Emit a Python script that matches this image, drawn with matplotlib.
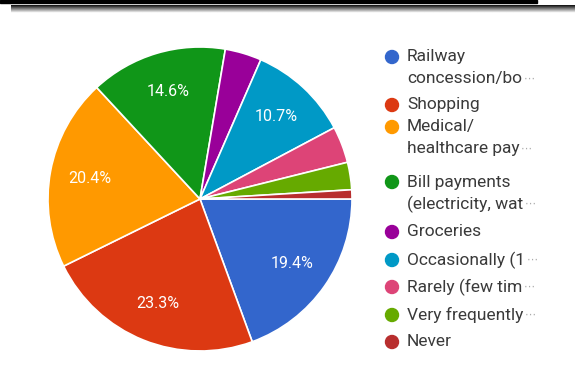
import matplotlib
matplotlib.use("Agg")
import matplotlib.pyplot as plt
from matplotlib.patches import Circle, Rectangle
import numpy as np

plt.rcParams['font.family'] = ['Roboto', 'DejaVu Sans']

# responses per option
labels = ["Railway\nconcession/bo", "Shopping", "Medical/\nhealthcare pay",
          "Bill payments\n(electricity, wat", "Groceries", "Occasionally (1",
          "Rarely (few tim", "Very frequently", "Never"]
truncated = [True, False, True, True, False, True, True, True, False]
counts = [20, 24, 21, 15, 4, 11, 4, 3, 1]
colors = ["#3366CC", "#DC3912", "#FF9900", "#109618", "#990099",
          "#0099C6", "#DD4477", "#66AA00", "#B82E2E"]

W, H = 575, 385
fig = plt.figure(figsize=(W / 100, H / 100), dpi=100)
fig.patch.set_facecolor("white")

# background layer in pixel units
bg = fig.add_axes([0, 0, 1, 1])
bg.axis('off')
bg.add_patch(Rectangle((0, 0), 537, 2.5, color="black"))
grad = np.linspace(0.1, 0.97, 8)[:, None] * np.ones((1, 10))
bg.imshow(grad, cmap="gray", vmin=0, vmax=1, extent=(11, W, 13, 5),
          aspect='auto', interpolation='bilinear')
bg.set_xlim(0, W)
bg.set_ylim(H, 0)

# pie
cx, cy, r = 200, 199, 152
ax = fig.add_axes([(cx - r) / W, (H - cy - r) / H, 2 * r / W, 2 * r / H])
wedges, texts, autotexts = ax.pie(
    counts, colors=colors, startangle=0, counterclock=False,
    autopct=lambda p: f"{p:.1f}%" if p >= 5 else "",
    pctdistance=0.74,
    wedgeprops=dict(edgecolor="white", linewidth=1.2),
    textprops=dict(color="white", fontsize=11.5))
ax.set_xlim(-1, 1)
ax.set_ylim(-1, 1)
ax.set_aspect('auto')

# legend
legend_y = [57, 105, 127, 182, 232, 260, 287, 315, 342]
line_h = 22
for lab, trunc, col, y in zip(labels, truncated, colors, legend_y):
    bg.add_patch(Circle((392, y), 6.5, color=col))
    lines = lab.split("\n")
    for i, ln in enumerate(lines):
        t = bg.text(407, y + i * line_h, ln, fontsize=12.5, color="#3a3a3a",
                    va="center", ha="left")
        if trunc and i == len(lines) - 1:
            bg.annotate("\u22ef", xy=(1, 0.5), xycoords=t, xytext=(1, 0),
                        textcoords="offset points", fontsize=8,
                        family=['DejaVu Sans'],
                        color="#aaaaaa", va="center", ha="left")

fig.savefig("out.png", dpi=100)
